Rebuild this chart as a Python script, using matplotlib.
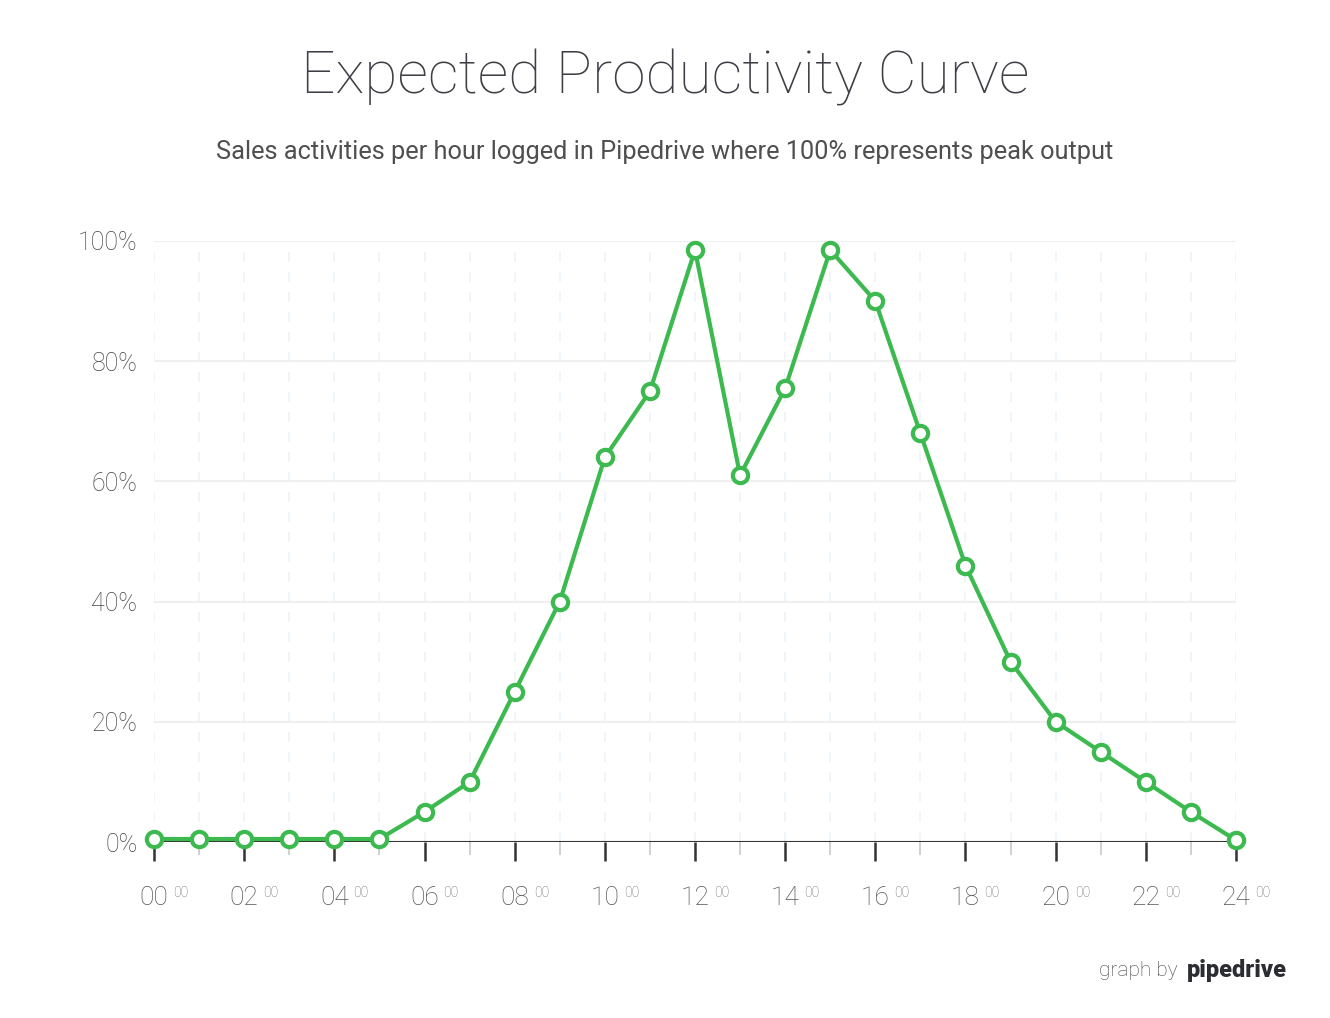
import matplotlib
matplotlib.use('Agg')
import matplotlib.pyplot as plt
import matplotlib.transforms as mtransforms

# data
hours = list(range(25))
productivity = [0.5, 0.5, 0.5, 0.5, 0.5, 0.5, 5, 10, 25, 40, 64, 75, 98.5, 61,
                75.5, 98.5, 90, 68, 46, 30, 20, 15, 10, 5, 0.3]
yticks = [0, 20, 40, 60, 80, 100]
ylabels = ['0%', '20%', '40%', '60%', '80%', '100%']
xlabels = ['%02d' % h for h in range(0, 25, 2)]

plt.rcParams['font.family'] = ['Roboto', 'DejaVu Sans']

green = '#3cb94f'
dark = '#3d3f45'

fig = plt.figure(figsize=(13.3, 10.18), dpi=100)
ax = fig.add_axes([154/1330, 1-842/1018, (1236-154)/1330, (842-241)/1018])

# grid
for y in yticks[1:]:
    ax.axhline(y, color='#efefef', lw=1.5, zorder=0)
for h in hours:
    ax.axvline(h, color='#eef3f9', lw=1.2, ls=(0, (6, 6)), zorder=0)
ax.axhline(0, color='#333333', lw=1.5, zorder=1)

ax.plot(hours, productivity, color=green, lw=3, marker='o', ms=11,
        mfc='white', mec=green, mew=3, clip_on=False, zorder=3)

ax.set_xlim(0, 24)
ax.set_ylim(0, 100)
for s in ax.spines.values():
    s.set_visible(False)

ax.set_yticks(yticks)
ax.set_yticklabels(ylabels, fontsize=18, color='#444444', fontweight='light')
ax.tick_params(axis='y', length=0, pad=12)

ax.set_xticks(range(0, 25, 2))
ax.set_xticklabels(xlabels, fontsize=19, color='#555555', fontweight='light')
ax.set_xticks(range(1, 24, 2), minor=True)
ax.tick_params(axis='x', which='major', length=14, width=1.8, color='#333333',
               pad=18, direction='out')
ax.tick_params(axis='x', which='minor', length=9.5, width=1.2, color='#c8c8c8',
               direction='out')

# superscript minutes
trans = mtransforms.blended_transform_factory(ax.transData, ax.transAxes)
for h in range(0, 25, 2):
    ax.annotate('00', xy=(h, 0), xycoords=trans, xytext=(19, -51),
                textcoords='offset pixels', fontsize=10, color='#666666',
                ha='left', va='center', fontweight='light')

fig.text(0.5, 1-78/1018, 'Expected Productivity Curve', ha='center', va='center',
         fontsize=43.5, color=dark, fontweight='light')
fig.text(0.5, 1-152/1018,
         'Sales activities per hour logged in Pipedrive where 100% represents peak output',
         ha='center', va='center', fontsize=18.3, color='#4f4f4f')

fig.text(1178/1330, 1-970/1018, 'graph by', ha='right', va='center',
         fontsize=15, color='#444444', fontweight='light')
fig.text(1187/1330, 1-970/1018, 'pipedrive', ha='left', va='center',
         fontsize=17, color='#2b2d33', fontweight='black')

fig.savefig('out.png', dpi=100, facecolor='white')
